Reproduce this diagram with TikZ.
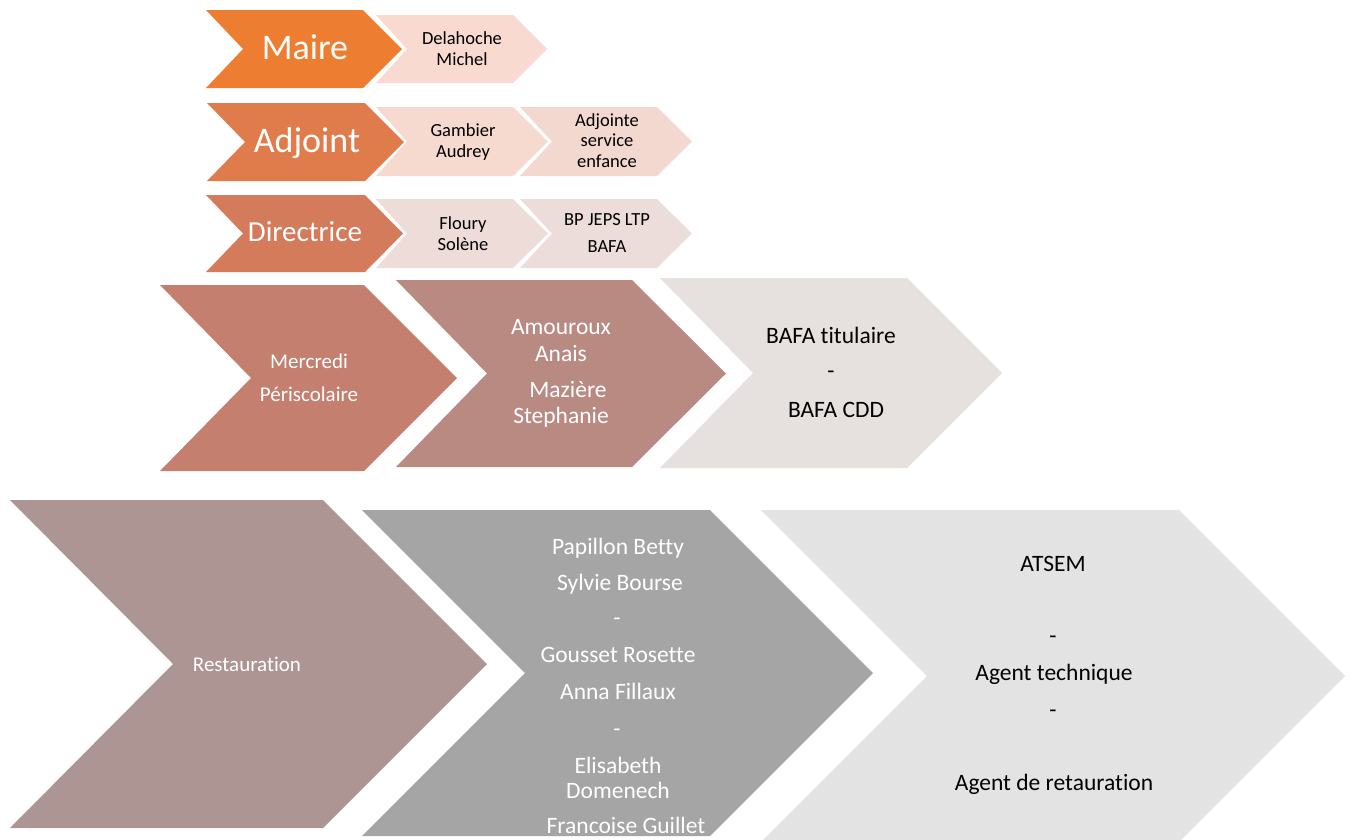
\documentclass[tikz,border=0pt]{standalone}
\usepackage{fontspec}
\setmainfont[Ligatures=NoCommon, RawFeature={-calt;-dlig}]{Carlito}
\definecolor{maireorange}{HTML}{ED7D31}
\definecolor{adjointorange}{HTML}{E07B4B}
\definecolor{directrust}{HTML}{D47B5C}
\definecolor{mercrust}{HTML}{C47F6E}
\definecolor{amourose}{HTML}{B88A82}
\definecolor{bafapale}{HTML}{E6E0DE}
\definecolor{restomauve}{HTML}{AD9594}
\definecolor{listgray}{HTML}{A5A5A5}
\definecolor{atsemgray}{HTML}{E3E3E3}
\definecolor{palea}{HTML}{F8DAD0}
\definecolor{paleb}{HTML}{F6D9CF}
\definecolor{palec}{HTML}{F3D8CF}
\definecolor{paled}{HTML}{EEDCD8}
\definecolor{palee}{HTML}{ECDDDA}
\tikzset{
	lbl/.style={anchor=base, inner sep=0pt, text=black},
	wlbl/.style={lbl, text=white},
	hugetxt/.style={font=\fontsize{36}{40}\selectfont},
	bigtxt/.style={font=\fontsize{29}{34}\selectfont},
	smalltxt/.style={font=\fontsize{18.5}{22}\selectfont},
	midtxt/.style={font=\fontsize{21}{25}\selectfont},
	listtxt/.style={font=\fontsize{23.5}{28}\selectfont},
}
\begin{document}
\begin{tikzpicture}[x=1pt, y=-1pt]
		\useasboundingbox [fill=white] (0,0) rectangle (1350,839);
		% row 1
		\fill [maireorange] (206,10) -- (363,10) -- (402,49) -- (363,88) -- (206,88) -- (243,49) -- cycle;
		\fill [palea] (376,15) -- (513,15) -- (547,49) -- (513,83) -- (376,83) -- (407,49) -- cycle;
		% row 2
		\fill [adjointorange] (207,103) -- (365,103) -- (404,142) -- (365,181) -- (207,181) -- (245,142) -- cycle;
		\fill [paleb] (376,107) -- (513,107) -- (548,141.5) -- (513,176) -- (376,176) -- (407,141.5) -- cycle;
		\fill [palec] (520,107) -- (657,107) -- (692,141.5) -- (657,176) -- (520,176) -- (552,141.5) -- cycle;
		% row 3
		\fill [directrust] (206,195) -- (365,195) -- (403,233.5) -- (365,272) -- (206,272) -- (243,233.5) -- cycle;
		\fill [paled] (376,199) -- (513,199) -- (548,233.5) -- (513,268) -- (376,268) -- (407,233.5) -- cycle;
		\fill [palee] (520,199) -- (657,199) -- (692,233.5) -- (657,268) -- (520,268) -- (552,233.5) -- cycle;
		% row 4
		\fill [mercrust] (160,285) -- (364,285) -- (457,378) -- (364,471) -- (160,471) -- (251,378) -- cycle;
		\fill [amourose] (396,280) -- (632,280) -- (726,373.5) -- (632,467) -- (396,467) -- (487,373.5) -- cycle;
		\fill [bafapale] (660,278) -- (907,278) -- (1002,373) -- (907,468) -- (660,468) -- (753,373) -- cycle;
		% row 5
		\fill [restomauve] (10,500) -- (323,500) -- (487,664) -- (323,828) -- (10,828) -- (173,664) -- cycle;
		\fill [listgray] (362,510) -- (710,510) -- (873,673) -- (710,836) -- (362,836) -- (525,673) -- cycle;
		\fill [atsemgray] (761,510) -- (1179,510) -- (1345,676) -- (1179,842) -- (761,842) -- (927,676) -- cycle;
		\node [wlbl, hugetxt] (maire) at (305,59.5) {Maire};
		\node [lbl, smalltxt] (delahoche) at (462,44.5) {Delahoche};
		\node [lbl, smalltxt] (michel) at (462,65) {Michel};
		\node [wlbl, hugetxt] (adjoint) at (307,152.5) {Adjoint};
		\node [lbl, smalltxt] (gambier) at (463,136.5) {Gambier};
		\node [lbl, smalltxt] (audrey) at (463,157) {Audrey};
		\node [lbl, smalltxt] (adjointe) at (607,126) {Adjointe};
		\node [lbl, smalltxt] (service) at (607,146.7) {service};
		\node [lbl, smalltxt] (enfance) at (607,167.3) {enfance};
		\node [wlbl, bigtxt] (directrice) at (305,241) {Directrice};
		\node [lbl, smalltxt] (floury) at (463,229.3) {Floury};
		\node [lbl, smalltxt] (solene) at (463,250) {Solène};
		\node [lbl, smalltxt] (bpjeps) at (607,225) {BP JEPS LTP};
		\node [lbl, smalltxt] (bafa) at (607,252.3) {BAFA};
		\node [wlbl, midtxt] (mercredi) at (309,368.3) {Mercredi};
		\node [wlbl, midtxt] (periscolaire) at (309,401) {Périscolaire};
		\node [wlbl, listtxt] (amouroux) at (561,334.3) {Amouroux};
		\node [wlbl, listtxt] (anais) at (561,361) {Anais};
		\node [wlbl, listtxt] (maziere) at (568,397.7) {Mazière};
		\node [wlbl, listtxt] (stephanie) at (561,423.3) {Stephanie};
		\node [lbl, listtxt] (titulaire) at (831,343.3) {BAFA titulaire};
		\node [lbl, listtxt] (tiretbafa) at (831,378) {-};
		\node [lbl, listtxt] (cdd) at (836,417.7) {BAFA CDD};
		\node [wlbl, midtxt] (restauration) at (247,671) {Restauration};
		\node [wlbl, listtxt] (papillon) at (618,554.3) {Papillon Betty};
		\node [wlbl, listtxt] (sylvie) at (620,590) {Sylvie Bourse};
		\node [wlbl, listtxt] (tireta) at (617,625) {-};
		\node [wlbl, listtxt] (gousset) at (618,662.3) {Gousset Rosette};
		\node [wlbl, listtxt] (anna) at (618,699) {Anna Fillaux};
		\node [wlbl, listtxt] (tiretb) at (617,736) {-};
		\node [wlbl, listtxt] (elisabeth) at (618,773.3) {Elisabeth};
		\node [wlbl, listtxt] (domenech) at (618,798.3) {Domenech};
		\node [wlbl, listtxt] (francoise) at (626,833.3) {Francoise Guillet};
		\node [lbl, listtxt] (atsem) at (1053,571) {ATSEM};
		\node [lbl, listtxt] (tiretc) at (1053,643.5) {-};
		\node [lbl, listtxt] (technique) at (1054,680) {Agent technique};
		\node [lbl, listtxt] (tiretd) at (1053,717) {-};
		\node [lbl, listtxt] (retauration) at (1054,790) {Agent de retauration};
	\end{tikzpicture}
\end{document}
